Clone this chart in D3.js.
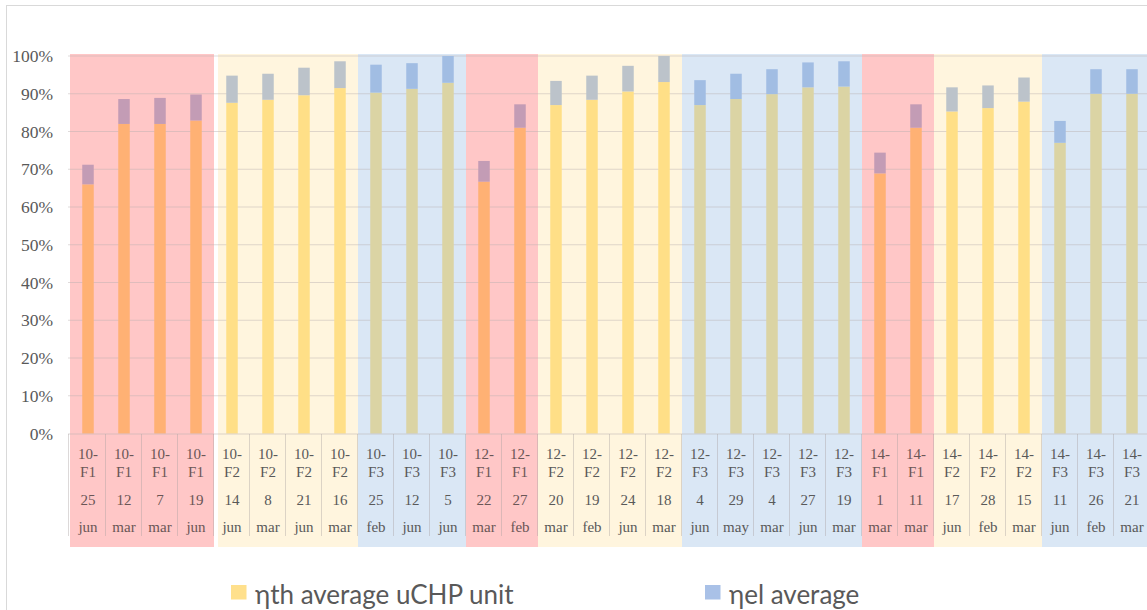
<!DOCTYPE html>
<html lang="en">
<head>
    <meta charset="UTF-8">
    <title>uCHP efficiency</title>
    <script src="https://d3js.org/d3.v7.min.js"></script>
    <style>
        body { margin: 0; background: white; }
        svg { display: block; }
        .serif { font-family: "Liberation Serif", "Times New Roman", serif; }
        .sans { font-family: Lato, "Open Sans", sans-serif; }
    </style>
</head>
<body>
    <svg></svg>
    <script>
        // Data
        var units = ["10-F1","10-F1","10-F1","10-F1","10-F2","10-F2","10-F2","10-F2","10-F3","10-F3","10-F3",
                     "12-F1","12-F1","12-F2","12-F2","12-F2","12-F2","12-F3","12-F3","12-F3","12-F3","12-F3",
                     "14-F1","14-F1","14-F2","14-F2","14-F2","14-F3","14-F3","14-F3"];
        var days = ["25","12","7","19","14","8","21","16","25","12","5",
                    "22","27","20","19","24","18","4","29","4","27","19",
                    "1","11","17","28","15","11","26","21"];
        var months = ["jun","mar","mar","jun","jun","mar","jun","mar","feb","jun","jun",
                      "mar","feb","mar","feb","jun","mar","jun","may","mar","jun","mar",
                      "mar","mar","jun","feb","mar","jun","feb","mar"];
        var thermal = [66.0, 82.0, 82.0, 82.9, 87.6, 88.4, 89.6, 91.5, 90.3, 91.3, 92.9,
                       66.7, 81.0, 87.0, 88.4, 90.6, 93.1, 87.0, 88.6, 89.9, 91.7, 91.9,
                       68.9, 81.0, 85.3, 86.2, 87.9, 77.0, 90.0, 90.0];
        var electrical = [5.2, 6.6, 6.9, 6.9, 7.2, 6.9, 7.3, 7.1, 7.4, 6.8, 7.1,
                          5.5, 6.2, 6.4, 6.4, 6.8, 6.9, 6.6, 6.7, 6.6, 6.6, 6.7,
                          5.5, 6.2, 6.4, 6.0, 6.4, 5.8, 6.5, 6.5];
        var yTicks = [0, 10, 20, 30, 40, 50, 60, 70, 80, 90, 100];
        var legendLabels = ["\u03b7th average uCHP unit", "\u03b7el average"];

        // colours per family (band, thermal bar, electrical bar)
        var bandColor = {F1: "#ffc7c7", F2: "#fff5de", F3: "#dae7f5"};
        var thColor = {F1: "#ffb174", F2: "#ffdf87", F3: "#dbd4a4"};
        var elColor = {F1: "#c39cb5", F2: "#bcc3ca", F3: "#a1bde3"};
        var legendColors = ["#ffe08c", "#a9c1e7"];

        var width = 1147, height = 610;
        var svg = d3.select("svg").attr("width", width).attr("height", height);

        var x = d3.scaleBand().domain(d3.range(units.length)).range([70, 1150]).padding(0);
        var y = d3.scaleLinear().domain([0, 100]).range([433.5, 56]);
        var barW = 11.5;

        // outer frame
        svg.append("rect").attr("x", 6.5).attr("y", 5.5).attr("width", 1200).attr("height", 700)
            .attr("fill", "none").attr("stroke", "#d9d9d9");

        // group runs of the same unit
        var groups = [];
        units.forEach(function(u, i) {
            if (groups.length && groups[groups.length - 1].unit === u) groups[groups.length - 1].end = i;
            else groups.push({unit: u, start: i, end: i});
        });

        // background bands
        svg.append("g").selectAll("rect").data(groups).enter().append("rect")
            .attr("x", d => x(d.start) + (d.start === 4 ? 4 : 0))
            .attr("y", 54)
            .attr("width", d => x(d.end) + x.step() - x(d.start) - (d.start === 4 ? 4 : 0))
            .attr("height", 493)
            .attr("fill", d => bandColor[d.unit.slice(3)]);

        // gridlines
        svg.append("g").selectAll("line").data(yTicks.slice(1)).enter().append("line")
            .attr("x1", 68).attr("x2", width)
            .attr("y1", d => y(d)).attr("y2", d => y(d))
            .attr("stroke", "#b8b0b0").attr("stroke-opacity", 0.45).attr("stroke-width", 1);

        // y labels
        svg.append("g").attr("class", "serif").selectAll("text").data(yTicks).enter().append("text")
            .attr("x", 53).attr("y", d => y(d) + 6)
            .attr("text-anchor", "end")
            .attr("font-size", 17.5)
            .attr("fill", "#595959")
            .text(d => d + "%");

        // stacked bars
        var bars = svg.append("g").selectAll("g").data(units).enter().append("g");
        bars.append("rect")
            .attr("x", (d, i) => x(i) + x.bandwidth() / 2 - barW / 2)
            .attr("width", barW)
            .attr("y", (d, i) => y(thermal[i]))
            .attr("height", (d, i) => y(0) - y(thermal[i]))
            .attr("fill", d => thColor[d.slice(3)]);
        bars.append("rect")
            .attr("x", (d, i) => x(i) + x.bandwidth() / 2 - barW / 2)
            .attr("width", barW)
            .attr("y", (d, i) => y(thermal[i] + electrical[i]))
            .attr("height", (d, i) => y(thermal[i]) - y(thermal[i] + electrical[i]))
            .attr("fill", d => elColor[d.slice(3)]);

        // axis line and category dividers
        svg.append("line").attr("x1", 68).attr("x2", width).attr("y1", 434).attr("y2", 434)
            .attr("stroke", "#b8b0b0").attr("stroke-opacity", 0.5);
        svg.append("g").selectAll("line").data(d3.range(units.length + 1)).enter().append("line")
            .attr("x1", d => d === 0 ? 68.5 : 70 + d * x.step() - 0.5)
            .attr("x2", d => d === 0 ? 68.5 : 70 + d * x.step() - 0.5)
            .attr("y1", 434).attr("y2", 536)
            .attr("stroke", "#a8a0a0").attr("stroke-opacity", 0.4);

        // category labels
        var labels = svg.append("g").attr("class", "serif").selectAll("g").data(units).enter().append("g")
            .attr("transform", (d, i) => "translate(" + (x(i) + x.bandwidth() / 2) + ",0)")
            .attr("font-size", 15)
            .attr("text-anchor", "middle")
            .attr("fill", d => d.slice(3) === "F1" ? "#6a5656" : "#595959");
        labels.append("text").attr("y", 458.5).text(d => d.slice(0, 3));
        labels.append("text").attr("y", 476.5).text(d => d.slice(3));
        labels.append("text").attr("y", 504.5).text((d, i) => days[i]);
        labels.append("text").attr("y", 532).text((d, i) => months[i]);

        // legend
        var legendX = [231, 705];
        var legend = svg.append("g").attr("class", "sans").selectAll("g").data(legendLabels).enter().append("g")
            .attr("transform", (d, i) => "translate(" + legendX[i] + ",585)");
        legend.append("rect").attr("width", 15.5).attr("height", 14.5)
            .attr("fill", (d, i) => legendColors[i]);
        legend.append("text").attr("x", 24).attr("y", 18.5)
            .attr("font-size", 26)
            .attr("fill", "#595959")
            .text(d => d);
    </script>
</body>
</html>
